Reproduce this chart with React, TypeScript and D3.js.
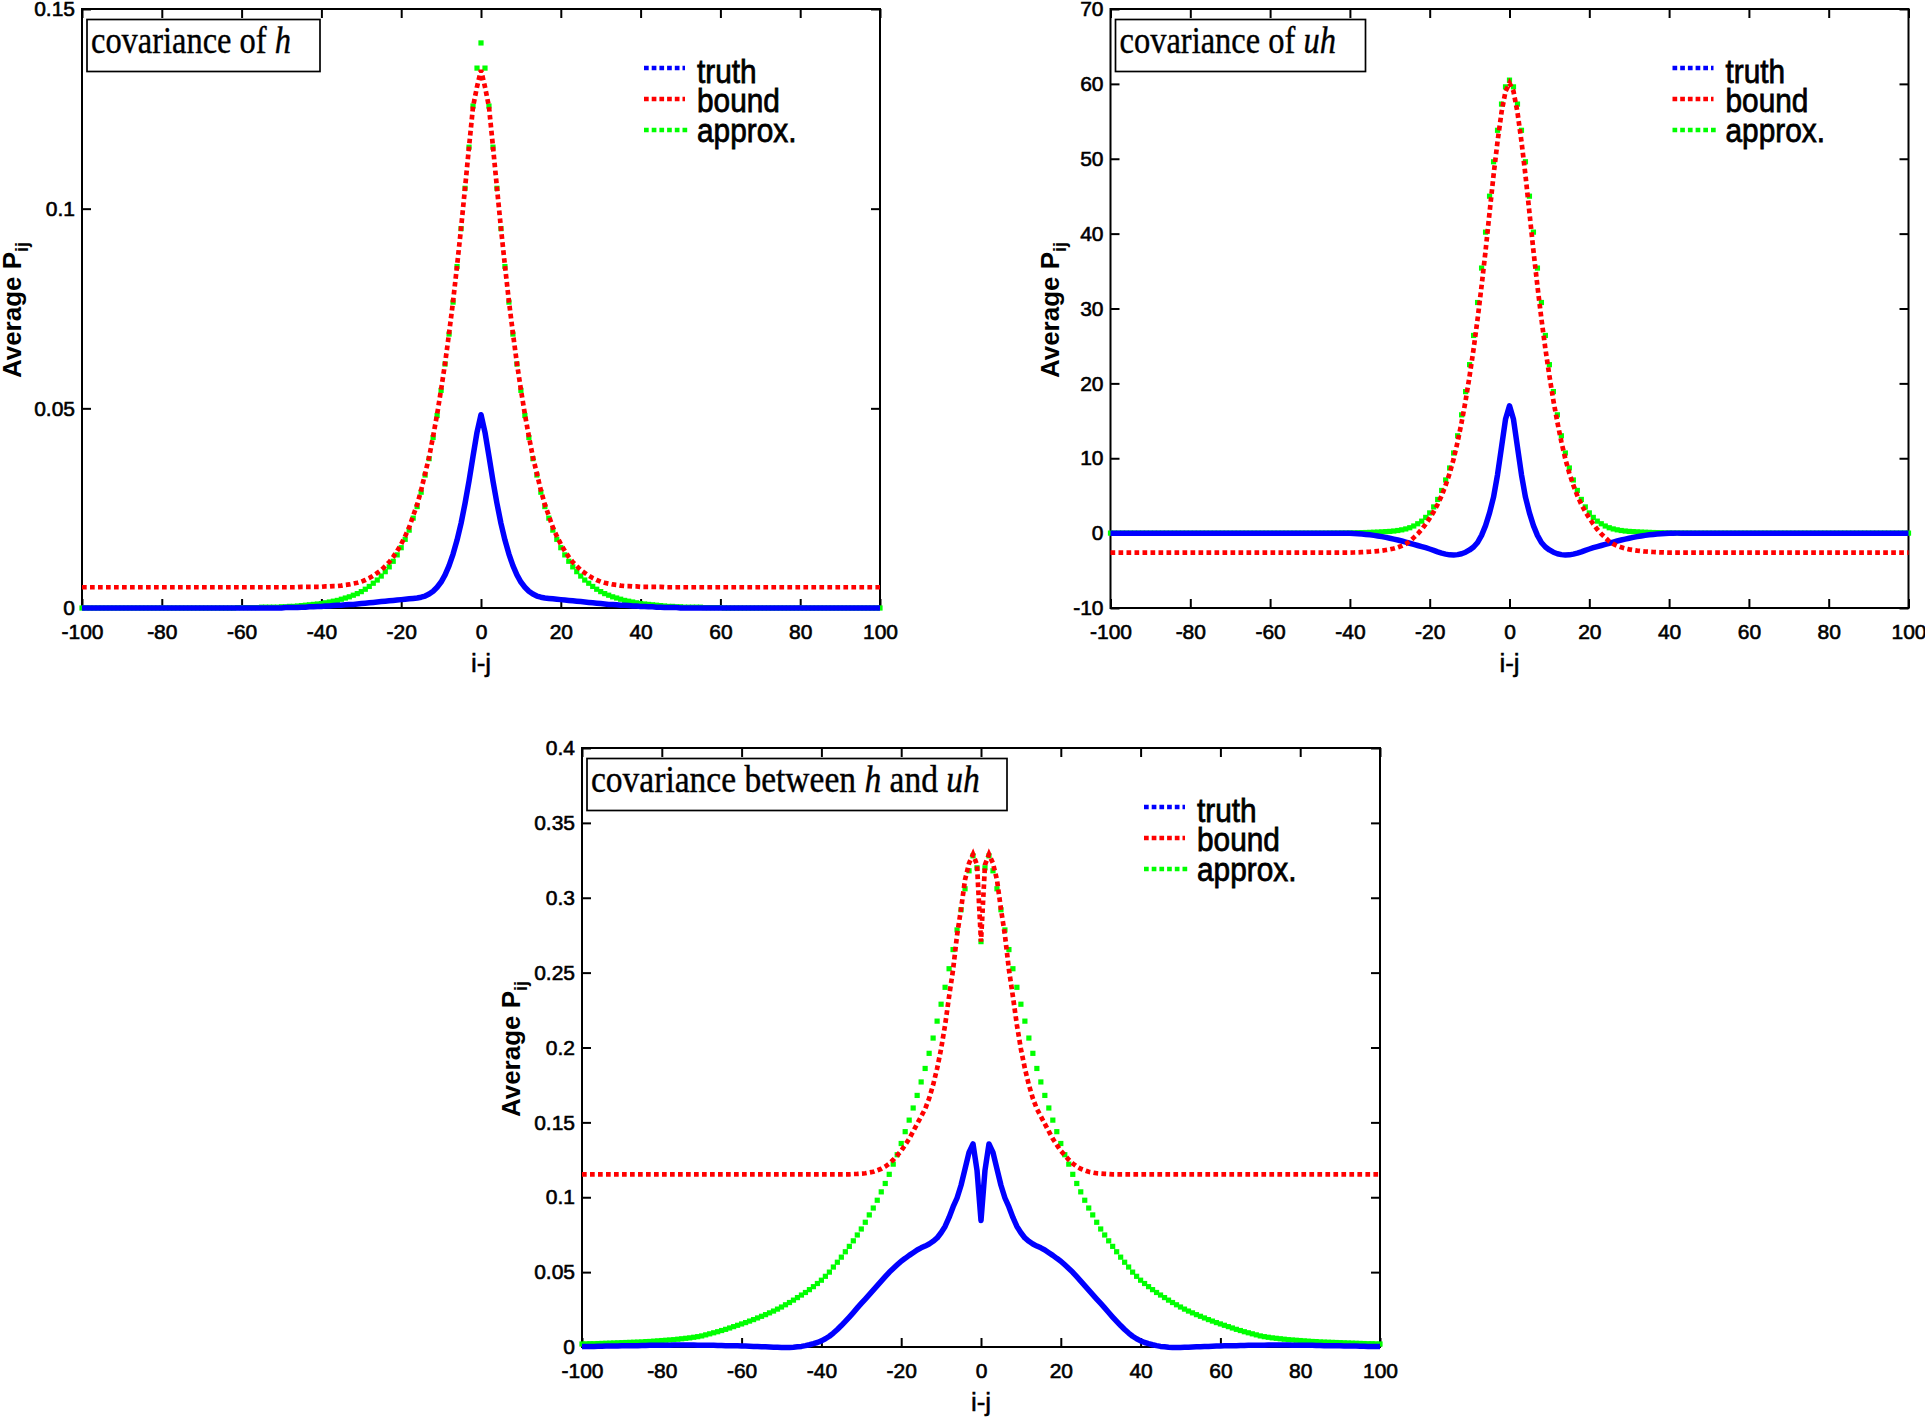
import { useEffect, useRef } from 'react';
import * as d3 from 'd3';

// lag i-j shared by every panel
const lags = d3.range(-100, 101);
const xTicks = [-100, -80, -60, -40, -20, 0, 20, 40, 60, 80, 100];

const hTicks = [0, 0.05, 0.1, 0.15];
const uhTicks = [-10, 0, 10, 20, 30, 40, 50, 60, 70];
const crossTicks = [0, 0.05, 0.1, 0.15, 0.2, 0.25, 0.3, 0.35, 0.4];

const legendLabels = ['truth', 'bound', 'approx.'];

// covariance of h
const hTruth = [
  0, 0, 0, 0, 0, 0, 0, 0, 0, 0,
  0, 0, 0, 0, 0, 0, 0, 0, 0, 0,
  0, 0, 0, 0, 0, 0, 0, 0, 0, 0,
  0, 0, 0, 0, 0, 0, 0, 0, 0, 0,
  0, 0, 0, 0, 0, 0, 0, 0, 0, 0,
  0, .0001, .0001, .0001, .0001, .0002, .0002, .0003, .0003, .0004,
  .0004, .0005, .0005, .0006, .0007, .0007, .0008, .0009, .0009, .0010,
  .0011, .0012, .0013, .0014, .0015, .0016, .0017, .0018, .0019, .0020,
  .0021, .0022, .0023, .0024, .0025, .0027, .0030, .0035, .0042, .0052,
  .0065, .0083, .0106, .0135, .0170, .0212, .0262, .0318, .0380, .0440,
  .0484, .0440, .0380, .0318, .0262, .0212, .0170, .0135, .0106, .0083,
  .0065, .0052, .0042, .0035, .0030, .0027, .0025, .0024, .0023, .0022,
  .0021, .0020, .0019, .0018, .0017, .0016, .0015, .0014, .0013, .0012,
  .0011, .0010, .0009, .0009, .0008, .0007, .0007, .0006, .0005, .0005,
  .0004, .0004, .0003, .0003, .0002, .0002, .0001, .0001, .0001, .0001,
  0, 0, 0, 0, 0, 0, 0, 0, 0, 0,
  0, 0, 0, 0, 0, 0, 0, 0, 0, 0,
  0, 0, 0, 0, 0, 0, 0, 0, 0, 0,
  0, 0, 0, 0, 0, 0, 0, 0, 0, 0,
  0, 0, 0, 0, 0, 0, 0, 0, 0, 0,
  0,
];
const hBound = [
  .0052, .0052, .0052, .0052, .0052, .0052, .0052, .0052, .0052, .0052,
  .0052, .0052, .0052, .0052, .0052, .0052, .0052, .0052, .0052, .0052,
  .0052, .0052, .0052, .0052, .0052, .0052, .0052, .0052, .0052, .0052,
  .0052, .0052, .0052, .0052, .0052, .0052, .0052, .0052, .0052, .0052,
  .0052, .0052, .0052, .0052, .0052, .0052, .0052, .0052, .0052, .0052,
  .0052, .0052, .0052, .0052, .0052, .0053, .0053, .0053, .0053, .0053,
  .0053, .0054, .0054, .0055, .0055, .0056, .0058, .0059, .0061, .0063,
  .0066, .0070, .0075, .0081, .0088, .0095, .0105, .0115, .0128, .0143,
  .0160, .0180, .0202, .0231, .0259, .0295, .0337, .0378, .0430, .0485,
  .0547, .0613, .0688, .0768, .0857, .0951, .1052, .1155, .1255, .1305,
  .1347, .1305, .1255, .1155, .1052, .0951, .0857, .0768, .0688, .0613,
  .0547, .0485, .0430, .0378, .0337, .0295, .0259, .0231, .0202, .0180,
  .0160, .0143, .0128, .0115, .0105, .0095, .0088, .0081, .0075, .0070,
  .0066, .0063, .0061, .0059, .0058, .0056, .0055, .0055, .0054, .0054,
  .0053, .0053, .0053, .0053, .0053, .0053, .0052, .0052, .0052, .0052,
  .0052, .0052, .0052, .0052, .0052, .0052, .0052, .0052, .0052, .0052,
  .0052, .0052, .0052, .0052, .0052, .0052, .0052, .0052, .0052, .0052,
  .0052, .0052, .0052, .0052, .0052, .0052, .0052, .0052, .0052, .0052,
  .0052, .0052, .0052, .0052, .0052, .0052, .0052, .0052, .0052, .0052,
  .0052, .0052, .0052, .0052, .0052, .0052, .0052, .0052, .0052, .0052,
  .0052,
];
const hApprox = [
  0, 0, 0, 0, 0, 0, 0, 0, 0, 0,
  0, 0, 0, 0, 0, 0, 0, 0, 0, 0,
  0, 0, 0, 0, 0, 0, 0, 0, 0, 0,
  0, 0, 0, 0, 0, 0, 0, 0, 0, .0001,
  .0001, .0001, .0001, .0001, .0001, .0002, .0002, .0002, .0002, .0002,
  .0003, .0003, .0004, .0004, .0005, .0006, .0007, .0008, .0009, .0010,
  .0011, .0013, .0015, .0017, .0019, .0022, .0025, .0028, .0032, .0036,
  .0041, .0047, .0054, .0062, .0070, .0080, .0091, .0103, .0117, .0133,
  .0151, .0172, .0195, .0225, .0254, .0290, .0333, .0374, .0427, .0482,
  .0545, .0611, .0686, .0766, .0855, .0950, .1051, .1154, .1257, .1352,
  .1415, .1352, .1257, .1154, .1051, .0950, .0855, .0766, .0686, .0611,
  .0545, .0482, .0427, .0374, .0333, .0290, .0254, .0225, .0195, .0172,
  .0151, .0133, .0117, .0103, .0091, .0080, .0070, .0062, .0054, .0047,
  .0041, .0036, .0032, .0028, .0025, .0022, .0019, .0017, .0015, .0013,
  .0011, .0010, .0009, .0008, .0007, .0006, .0005, .0004, .0004, .0003,
  .0003, .0002, .0002, .0002, .0002, .0002, .0001, .0001, .0001, .0001,
  .0001, 0, 0, 0, 0, 0, 0, 0, 0, 0,
  0, 0, 0, 0, 0, 0, 0, 0, 0, 0,
  0, 0, 0, 0, 0, 0, 0, 0, 0, 0,
  0, 0, 0, 0, 0, 0, 0, 0, 0, 0,
  0,
];

// covariance of uh
const uhTruth = [
  0, 0, 0, 0, 0, 0, 0, 0, 0, 0,
  0, 0, 0, 0, 0, 0, 0, 0, 0, 0,
  0, 0, 0, 0, 0, 0, 0, 0, 0, 0,
  0, 0, 0, 0, 0, 0, 0, 0, 0, 0,
  0, 0, 0, 0, 0, 0, 0, 0, 0, 0,
  0, 0, 0, 0, 0, 0, 0, 0, 0, -0.01,
  -0.03, -0.05, -0.08, -0.12, -0.17, -0.23, -0.3, -0.38, -0.47, -0.57,
  -0.68, -0.8, -0.92, -1.05, -1.2, -1.35, -1.5, -1.65, -1.8, -1.95,
  -2.12, -2.3, -2.5, -2.67, -2.8, -2.9, -2.92, -2.87, -2.75, -2.55,
  -2.25, -1.85, -1.25, -0.3, 1.0, 2.7, 4.8, 7.8, 11.5, 15.2,
  17.0, 15.2, 11.5, 7.8, 4.8, 2.7, 1.0, -0.3, -1.25, -1.85,
  -2.25, -2.55, -2.75, -2.87, -2.92, -2.9, -2.8, -2.67, -2.5, -2.3,
  -2.12, -1.95, -1.8, -1.65, -1.5, -1.35, -1.2, -1.05, -0.92, -0.8,
  -0.68, -0.57, -0.47, -0.38, -0.3, -0.23, -0.17, -0.12, -0.08, -0.05,
  -0.03, -0.01, 0, 0, 0, 0, 0, 0, 0, 0,
  0, 0, 0, 0, 0, 0, 0, 0, 0, 0,
  0, 0, 0, 0, 0, 0, 0, 0, 0, 0,
  0, 0, 0, 0, 0, 0, 0, 0, 0, 0,
  0, 0, 0, 0, 0, 0, 0, 0, 0, 0,
  0, 0, 0, 0, 0, 0, 0, 0, 0, 0,
  0,
];
const uhBound = [
  -2.6, -2.6, -2.6, -2.6, -2.6, -2.6, -2.6, -2.6, -2.6, -2.6,
  -2.6, -2.6, -2.6, -2.6, -2.6, -2.6, -2.6, -2.6, -2.6, -2.6,
  -2.6, -2.6, -2.6, -2.6, -2.6, -2.6, -2.6, -2.6, -2.6, -2.6,
  -2.6, -2.6, -2.6, -2.6, -2.6, -2.6, -2.6, -2.6, -2.6, -2.6,
  -2.6, -2.6, -2.6, -2.6, -2.6, -2.6, -2.6, -2.6, -2.6, -2.6,
  -2.6, -2.6, -2.6, -2.6, -2.6, -2.6, -2.6, -2.6, -2.6, -2.6,
  -2.6, -2.59, -2.57, -2.55, -2.52, -2.49, -2.45, -2.4, -2.34, -2.26,
  -2.17, -2.05, -1.9, -1.7, -1.45, -1.1, -0.6, -0.1, 0.5, 1.2,
  2.0, 2.85, 3.85, 5.0, 6.4, 8.0, 9.9, 12.2, 14.8, 17.7,
  21.0, 24.6, 28.6, 33.0, 37.7, 42.8, 47.8, 52.3, 56.2, 59.0,
  60.1, 59.0, 56.2, 52.3, 47.8, 42.8, 37.7, 33.0, 28.6, 24.6,
  21.0, 17.7, 14.8, 12.2, 9.9, 8.0, 6.4, 5.0, 3.85, 2.85,
  2.0, 1.2, 0.5, -0.1, -0.6, -1.1, -1.45, -1.7, -1.9, -2.05,
  -2.17, -2.26, -2.34, -2.4, -2.45, -2.49, -2.52, -2.55, -2.57, -2.59,
  -2.6, -2.6, -2.6, -2.6, -2.6, -2.6, -2.6, -2.6, -2.6, -2.6,
  -2.6, -2.6, -2.6, -2.6, -2.6, -2.6, -2.6, -2.6, -2.6, -2.6,
  -2.6, -2.6, -2.6, -2.6, -2.6, -2.6, -2.6, -2.6, -2.6, -2.6,
  -2.6, -2.6, -2.6, -2.6, -2.6, -2.6, -2.6, -2.6, -2.6, -2.6,
  -2.6, -2.6, -2.6, -2.6, -2.6, -2.6, -2.6, -2.6, -2.6, -2.6,
  -2.6, -2.6, -2.6, -2.6, -2.6, -2.6, -2.6, -2.6, -2.6, -2.6,
  -2.6,
];
const uhApprox = [
  0, 0, 0, 0, 0, 0, 0, 0, 0, 0,
  0, 0, 0, 0, 0, 0, 0, 0, 0, 0,
  0, 0, 0, 0, 0, 0, 0, 0, 0, 0,
  0, 0, 0, 0, 0, 0, 0, 0, 0, 0,
  0, 0, 0, 0, 0, 0, 0, 0, 0, 0,
  0, 0, 0, 0, 0, 0.01, 0.01, 0.01, 0.02, 0.02,
  0.03, 0.04, 0.06, 0.07, 0.08, 0.1, 0.12, 0.14, 0.17, 0.2,
  0.23, 0.28, 0.35, 0.44, 0.56, 0.72, 0.95, 1.25, 1.6, 2.1,
  2.7, 3.5, 4.5, 5.7, 7.1, 8.7, 10.7, 13.0, 15.8, 18.9,
  22.5, 26.4, 30.8, 35.4, 40.2, 45.0, 49.6, 53.8, 57.3, 59.6,
  60.5, 59.6, 57.3, 53.8, 49.6, 45.0, 40.2, 35.4, 30.8, 26.4,
  22.5, 18.9, 15.8, 13.0, 10.7, 8.7, 7.1, 5.7, 4.5, 3.5,
  2.7, 2.1, 1.6, 1.25, 0.95, 0.72, 0.56, 0.44, 0.35, 0.28,
  0.23, 0.2, 0.17, 0.14, 0.12, 0.1, 0.08, 0.07, 0.06, 0.04,
  0.03, 0.02, 0.02, 0.01, 0.01, 0.01, 0, 0, 0, 0,
  0, 0, 0, 0, 0, 0, 0, 0, 0, 0,
  0, 0, 0, 0, 0, 0, 0, 0, 0, 0,
  0, 0, 0, 0, 0, 0, 0, 0, 0, 0,
  0, 0, 0, 0, 0, 0, 0, 0, 0, 0,
  0, 0, 0, 0, 0, 0, 0, 0, 0, 0,
  0,
];

// covariance between h and uh
const crossTruth = [
  .0003, .0003, .0004, .0004, .0005, .0005, .0006, .0006, .0007, .0007,
  .0008, .0008, .0008, .0009, .0009, .0010, .0010, .0011, .0011, .0011,
  .0012, .0012, .0012, .0013, .0013, .0013, .0013, .0013, .0013, .0012,
  .0012, .0012, .0011, .0011, .0010, .0010, .0009, .0009, .0008, .0008,
  .0007, .0006, .0005, .0004, .0003, .0002, .0001, 0, -.0001, -.0002,
  -.0003, -.0004, -.0004, -.0002, .0001, .0004, .0009, .0015, .0022, .0030,
  .0041, .0055, .0072, .0093, .0117, .0143, .0171, .0200, .0230, .0261,
  .0291, .0320, .0350, .0380, .0410, .0440, .0470, .0499, .0524, .0549,
  .0573, .0592, .0612, .0630, .0648, .0662, .0674, .0688, .0706, .0728,
  .0763, .0805, .0865, .0935, .0995, .1080, .1190, .1300, .1356, .1180,
  .0844, .1180, .1356, .1300, .1190, .1080, .0995, .0935, .0865, .0805,
  .0763, .0728, .0706, .0688, .0674, .0662, .0648, .0630, .0612, .0592,
  .0573, .0549, .0524, .0499, .0470, .0440, .0410, .0380, .0350, .0320,
  .0291, .0261, .0230, .0200, .0171, .0143, .0117, .0093, .0072, .0055,
  .0041, .0030, .0022, .0015, .0009, .0004, .0001, -.0002, -.0004, -.0004,
  -.0003, -.0002, -.0001, 0, .0001, .0002, .0003, .0004, .0005, .0006,
  .0007, .0008, .0008, .0009, .0009, .0010, .0010, .0011, .0011, .0012,
  .0012, .0012, .0013, .0013, .0013, .0013, .0013, .0013, .0012, .0012,
  .0012, .0011, .0011, .0011, .0010, .0010, .0009, .0009, .0008, .0008,
  .0008, .0007, .0007, .0006, .0006, .0005, .0005, .0004, .0004, .0003,
  .0003,
];
const crossBound = [
  .1153, .1153, .1153, .1153, .1153, .1153, .1153, .1153, .1153, .1153,
  .1153, .1153, .1153, .1153, .1153, .1153, .1153, .1153, .1153, .1153,
  .1153, .1153, .1153, .1153, .1153, .1153, .1153, .1153, .1153, .1153,
  .1153, .1153, .1153, .1153, .1153, .1153, .1153, .1153, .1153, .1153,
  .1153, .1153, .1153, .1153, .1153, .1153, .1153, .1153, .1153, .1153,
  .1153, .1153, .1153, .1153, .1153, .1153, .1153, .1153, .1153, .1153,
  .1153, .1153, .1153, .1153, .1153, .1153, .1153, .1153, .1155, .1156,
  .1158, .1160, .1165, .1170, .1180, .1190, .1205, .1225, .1250, .1280,
  .1310, .1350, .1390, .1440, .1490, .1540, .1590, .1660, .1750, .1860,
  .1990, .2150, .2340, .2520, .2750, .2925, .3120, .3230, .3290, .3220,
  .2707, .3220, .3290, .3230, .3120, .2925, .2750, .2520, .2340, .2150,
  .1990, .1860, .1750, .1660, .1590, .1540, .1490, .1440, .1390, .1350,
  .1310, .1280, .1250, .1225, .1205, .1190, .1180, .1170, .1165, .1160,
  .1158, .1156, .1155, .1153, .1153, .1153, .1153, .1153, .1153, .1153,
  .1153, .1153, .1153, .1153, .1153, .1153, .1153, .1153, .1153, .1153,
  .1153, .1153, .1153, .1153, .1153, .1153, .1153, .1153, .1153, .1153,
  .1153, .1153, .1153, .1153, .1153, .1153, .1153, .1153, .1153, .1153,
  .1153, .1153, .1153, .1153, .1153, .1153, .1153, .1153, .1153, .1153,
  .1153, .1153, .1153, .1153, .1153, .1153, .1153, .1153, .1153, .1153,
  .1153, .1153, .1153, .1153, .1153, .1153, .1153, .1153, .1153, .1153,
  .1153,
];
const crossApprox = [
  .0020, .0021, .0022, .0022, .0023, .0024, .0025, .0026, .0027, .0028,
  .0029, .0030, .0031, .0032, .0033, .0034, .0036, .0037, .0039, .0041,
  .0043, .0045, .0047, .0049, .0052, .0055, .0058, .0061, .0065, .0069,
  .0074, .0081, .0088, .0095, .0102, .0110, .0118, .0127, .0136, .0145,
  .0154, .0163, .0173, .0183, .0194, .0205, .0216, .0228, .0240, .0253,
  .0267, .0282, .0297, .0313, .0330, .0347, .0364, .0383, .0403, .0424,
  .0446, .0472, .0500, .0534, .0566, .0600, .0636, .0672, .0709, .0748,
  .0788, .0833, .0882, .0928, .0980, .1036, .1092, .1153, .1221, .1284,
  .1359, .1438, .1515, .1596, .1680, .1770, .1860, .1961, .2063, .2176,
  .2289, .2402, .2526, .2654, .2785, .2920, .3060, .3180, .3280, .3200,
  .2707, .3200, .3280, .3180, .3060, .2920, .2785, .2654, .2526, .2402,
  .2289, .2176, .2063, .1961, .1860, .1770, .1680, .1596, .1515, .1438,
  .1359, .1284, .1221, .1153, .1092, .1036, .0980, .0928, .0882, .0833,
  .0788, .0748, .0709, .0672, .0636, .0600, .0566, .0534, .0500, .0472,
  .0446, .0424, .0403, .0383, .0364, .0347, .0330, .0313, .0297, .0282,
  .0267, .0253, .0240, .0228, .0216, .0205, .0194, .0183, .0173, .0163,
  .0154, .0145, .0136, .0127, .0118, .0110, .0102, .0095, .0088, .0081,
  .0074, .0069, .0065, .0061, .0058, .0055, .0052, .0049, .0047, .0045,
  .0043, .0041, .0039, .0037, .0036, .0034, .0033, .0032, .0031, .0030,
  .0029, .0028, .0027, .0026, .0025, .0024, .0023, .0022, .0022, .0021,
  .0020,
];

const SANS = "'Liberation Sans', Arial, Helvetica, sans-serif";
const SERIF = "'Liberation Serif', 'Times New Roman', serif";
const BLUE = '#0000ff';
const RED = '#ff0000';
const GREEN = '#00ff00';

type TitlePart = { text: string; italic: boolean };

type Panel = {
  left: number;
  top: number;
  yDomain: [number, number];
  yTicks: number[];
  truth: number[];
  bound: number[];
  approx: number[];
  title: TitlePart[];
  boxWidth: number;
  titleWidth: number;
  ylabelOffset: number;
};

const panels: Panel[] = [
  {
    left: 82, top: 9, yDomain: [0, 0.15], yTicks: hTicks,
    truth: hTruth, bound: hBound, approx: hApprox,
    title: [{ text: 'covariance of ', italic: false }, { text: 'h', italic: true }],
    boxWidth: 233, titleWidth: 200, ylabelOffset: 61,
  },
  {
    left: 1110.5, top: 9, yDomain: [-10, 70], yTicks: uhTicks,
    truth: uhTruth, bound: uhBound, approx: uhApprox,
    title: [{ text: 'covariance of ', italic: false }, { text: 'uh', italic: true }],
    boxWidth: 250, titleWidth: 216.5, ylabelOffset: 51.5,
  },
  {
    left: 582, top: 748, yDomain: [0, 0.4], yTicks: crossTicks,
    truth: crossTruth, bound: crossBound, approx: crossApprox,
    title: [
      { text: 'covariance between ', italic: false },
      { text: 'h', italic: true },
      { text: ' and ', italic: false },
      { text: 'uh', italic: true },
    ],
    boxWidth: 420, titleWidth: 389, ylabelOffset: 62.5,
  },
];

const W = 798;
const H = 599;

export default function App() {
  const svgRef = useRef<SVGSVGElement>(null);

  useEffect(() => {
    const svg = d3.select(svgRef.current);
    svg.selectAll('*').remove();

    const x = d3.scaleLinear().domain([-100, 100]).range([0, W]);

    const styleAxis = (sel: any) => {
      sel.select('.domain').remove();
      sel.attr('font-size', 21).attr('font-family', SANS);
      sel.selectAll('.tick line').attr('stroke', '#000').attr('stroke-width', 2);
      sel.selectAll('.tick text')
        .attr('fill', '#000')
        .attr('stroke', '#000')
        .attr('stroke-width', 0.6);
    };

    panels.forEach((p) => {
      const y = d3.scaleLinear().domain(p.yDomain).range([H, 0]);
      const g = svg.append('g').attr('transform', `translate(${p.left},${p.top})`);

      // axes, MATLAB style: ticks inside on all four sides
      g.append('g')
        .attr('transform', `translate(0,${H})`)
        .call(d3.axisBottom(x).tickValues(xTicks).tickSizeInner(-9).tickSizeOuter(0)
          .tickPadding(16).tickFormat((d) => String(d)))
        .call(styleAxis);
      g.append('g')
        .call(d3.axisTop(x).tickValues(xTicks).tickSizeInner(-9).tickSizeOuter(0).tickFormat(() => ''))
        .call(styleAxis);
      g.append('g')
        .call(d3.axisLeft(y).tickValues(p.yTicks).tickSizeInner(-9).tickSizeOuter(0)
          .tickPadding(7).tickFormat((d) => String(d)))
        .call(styleAxis);
      g.append('g')
        .attr('transform', `translate(${W},0)`)
        .call(d3.axisRight(y).tickValues(p.yTicks).tickSizeInner(-9).tickSizeOuter(0).tickFormat(() => ''))
        .call(styleAxis);

      g.append('rect')
        .attr('width', W).attr('height', H)
        .attr('fill', 'none').attr('stroke', '#000').attr('stroke-width', 2);

      // axis labels
      g.append('text')
        .attr('x', W / 2).attr('y', H + 64)
        .attr('text-anchor', 'middle')
        .attr('font-family', SANS).attr('font-size', 26)
        .attr('stroke', '#000').attr('stroke-width', 0.5)
        .text('i-j');

      const yl = g.append('text')
        .attr('transform', `translate(${-p.ylabelOffset},${H / 2 + 1.5}) rotate(-90)`)
        .attr('text-anchor', 'middle')
        .attr('font-family', SANS).attr('font-size', 26).attr('font-weight', 'bold');
      yl.append('tspan').text('Average P');
      yl.append('tspan').attr('font-size', 18).attr('dy', 7).text('ij');

      // approx: square markers at each lag
      g.append('g')
        .selectAll('rect')
        .data(lags)
        .join('rect')
        .attr('x', (d) => x(d) - 2.6)
        .attr('y', (_, i) => y(p.approx[i]) - 2.6)
        .attr('width', 5.2)
        .attr('height', 5.2)
        .attr('fill', GREEN);

      const line = (vals: number[]) =>
        d3.line<number>()
          .x((d) => x(d))
          .y((_, i) => y(vals[i]))(lags);

      g.append('path')
        .attr('d', line(p.truth))
        .attr('fill', 'none')
        .attr('stroke', BLUE)
        .attr('stroke-width', 5.5)
        .attr('stroke-linejoin', 'round');

      g.append('path')
        .attr('d', line(p.bound))
        .attr('fill', 'none')
        .attr('stroke', RED)
        .attr('stroke-width', 4.7)
        .attr('stroke-dasharray', '4.7 3.3');

      // title box
      g.append('rect')
        .attr('x', 5).attr('y', 10.5)
        .attr('width', p.boxWidth).attr('height', 52)
        .attr('fill', '#fff').attr('stroke', '#000').attr('stroke-width', 1.7);
      const tt = g.append('text')
        .attr('font-family', SERIF).attr('font-size', 38).attr('fill', '#000')
        .attr('stroke', '#000').attr('stroke-width', 0.4);
      p.title.forEach((part) => {
        tt.append('tspan')
          .attr('font-style', part.italic ? 'italic' : 'normal')
          .text(part.text);
      });
      const natural = (tt.node() as SVGTextElement).getComputedTextLength() || p.titleWidth;
      tt.attr('transform', `translate(9,44) scale(${p.titleWidth / natural},1)`);

      // legend
      const legendColors = [BLUE, RED, GREEN];
      legendLabels.forEach((label, k) => {
        const ly = 59 + k * 31;
        g.append('line')
          .attr('x1', W - 236).attr('x2', k === 2 ? W - 190 : W - 195)
          .attr('y1', ly).attr('y2', ly)
          .attr('stroke', legendColors[k])
          .attr('stroke-width', 4.5)
          .attr('stroke-dasharray', '4.7 3');
        g.append('text')
          .attr('transform', `translate(${W - 183},${73.7 + k * 29.5}) scale(0.877,1)`)
          .attr('font-family', SANS).attr('font-size', 34).attr('fill', '#000')
          .attr('stroke', '#000').attr('stroke-width', 0.8)
          .text(label);
      });
    });
  }, []);

  return (
    <svg
      ref={svgRef}
      width={1925}
      height={1418}
      style={{ position: 'absolute', left: 0, top: 0, background: '#fff' }}
    />
  );
}
